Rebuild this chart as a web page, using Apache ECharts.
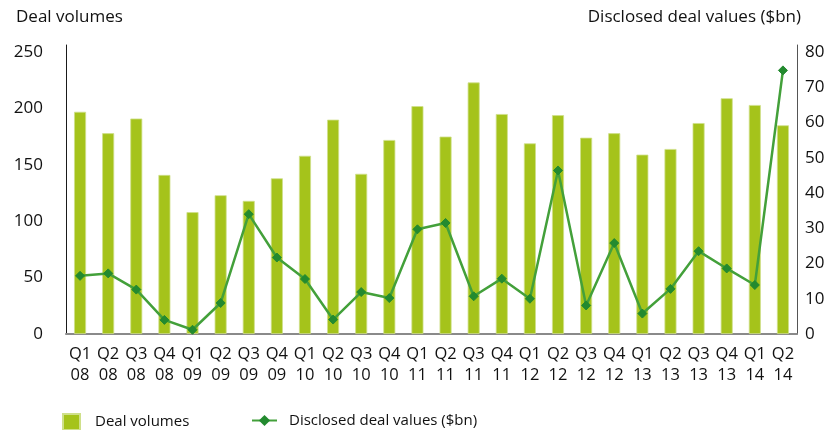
<!DOCTYPE html>
<html>
<head>
<meta charset="utf-8">
<script src="https://cdn.jsdelivr.net/npm/echarts@6/dist/echarts.min.js"></script>
<style>
  html, body { margin: 0; padding: 0; background: #fff; }
  #chart { width: 838px; height: 430px; }
</style>
</head>
<body>
<div id="chart"></div>
<script>
// Quarterly categories (quarter / two-digit year)
const quarters = [
  'Q1\n08','Q2\n08','Q3\n08','Q4\n08',
  'Q1\n09','Q2\n09','Q3\n09','Q4\n09',
  'Q1\n10','Q2\n10','Q3\n10','Q4\n10',
  'Q1\n11','Q2\n11','Q3\n11','Q4\n11',
  'Q1\n12','Q2\n12','Q3\n12','Q4\n12',
  'Q1\n13','Q2\n13','Q3\n13','Q4\n13',
  'Q1\n14','Q2\n14'
];

// Number of deals per quarter (left axis)
const dealVolumes = [
  197, 178, 191, 141,
  108, 123, 118, 138,
  158, 190, 142, 172,
  202, 175, 223, 195,
  169, 194, 174, 178,
  159, 164, 187, 209,
  203, 185
];

// Disclosed deal values in $bn (right axis)
const dealValues = [
  16.5, 17.2, 12.6, 4.0,
  1.2, 8.8, 34.0, 21.7,
  15.6, 4.1, 11.9, 10.2,
  29.7, 31.5, 10.7, 15.7,
  10.0, 46.4, 8.1, 25.8,
  5.8, 12.8, 23.5, 18.6,
  13.9, 74.8
];

const leftTicks = [0, 50, 100, 150, 200, 250];
const rightTicks = [0, 10, 20, 30, 40, 50, 60, 70, 80];

const FONT = '"Open Sans", "Noto Sans", sans-serif';
const TEXT = '#111111';
const BAR_GREEN = '#a5c31b';
const LINE_GREEN = '#43a03a';
const MARK_GREEN = '#238a2f';

// Axis lines run a little past the top tick; the extra headroom is not labelled.
const leftMax = 256.2;
const rightMax = 82;

const chart = echarts.init(document.getElementById('chart'), null, { renderer: 'canvas' });

chart.setOption({
  animation: false,
  backgroundColor: '#ffffff',
  textStyle: { fontFamily: FONT },
  grid: { left: 66, right: 41, top: 45, bottom: 96, containLabel: false },
  title: [
    {
      text: 'Deal volumes', left: 11, top: 4,
      textStyle: { fontFamily: FONT, fontSize: 17, fontWeight: 'normal', color: TEXT }
    },
    {
      text: 'Disclosed deal values ($bn)', right: 32, top: 4,
      textStyle: { fontFamily: FONT, fontSize: 17, fontWeight: 'normal', color: TEXT }
    }
  ],
  legend: [
    {
      data: [{ name: 'Deal volumes', icon: 'rect' }],
      left: 57, top: 408,
      itemWidth: 17, itemHeight: 16,
      textStyle: { fontFamily: FONT, fontSize: 15, color: TEXT, padding: [0, 0, 0, 10] }
    },
    {
      data: [{ name: 'Disclosed deal values ($bn)' }],
      left: 246, top: 408,
      itemWidth: 25, itemHeight: 14,
      textStyle: { fontFamily: FONT, fontSize: 15, color: TEXT, padding: [0, 0, 0, 7] }
    }
  ],
  xAxis: {
    type: 'category',
    data: quarters,
    boundaryGap: true,
    axisLine: { lineStyle: { color: '#8a8a8a', width: 2 } },
    axisTick: { show: false },
    axisLabel: {
      interval: 0, margin: 10,
      fontFamily: FONT, fontSize: 16.5, lineHeight: 21, color: TEXT
    }
  },
  yAxis: [
    {
      type: 'value', min: 0, max: leftMax, interval: 50,
      axisLine: { show: true, lineStyle: { color: '#1a1a1a', width: 1 } },
      axisTick: { show: false },
      splitLine: { show: false },
      axisLabel: {
        margin: 23, fontFamily: FONT, fontSize: 17, color: TEXT,
        formatter: v => leftTicks.includes(v) ? String(v) : ''
      }
    },
    {
      type: 'value', min: 0, max: rightMax, interval: 10,
      position: 'right',
      axisLine: { show: true, lineStyle: { color: '#555555', width: 1 } },
      axisTick: { show: false },
      splitLine: { show: false },
      axisLabel: {
        margin: 8, fontFamily: FONT, fontSize: 17, color: TEXT,
        formatter: v => rightTicks.includes(v) ? String(v) : ''
      }
    }
  ],
  series: [
    {
      name: 'Deal volumes',
      type: 'bar',
      yAxisIndex: 0,
      data: dealVolumes,
      barWidth: 12,
      itemStyle: { color: BAR_GREEN, borderColor: '#cfe08a', borderWidth: 0.8 }
    },
    {
      name: 'Disclosed deal values ($bn)',
      type: 'line',
      yAxisIndex: 1,
      data: dealValues,
      symbol: 'diamond',
      symbolSize: 9,
      lineStyle: { color: LINE_GREEN, width: 2.5 },
      itemStyle: { color: MARK_GREEN, borderColor: MARK_GREEN },
      z: 5
    }
  ]
});
</script>
</body>
</html>
